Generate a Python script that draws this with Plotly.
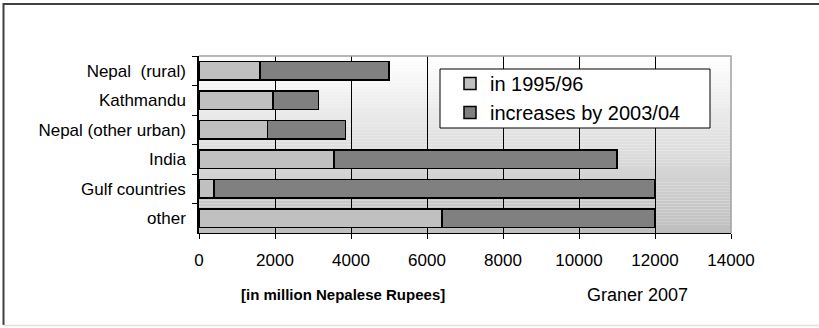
import plotly.graph_objects as go

# Remittance inflows by source, 1995/96 level and increase by 2003/04
categories = ["Nepal  (rural)", "Kathmandu", "Nepal (other urban)", "India",
              "Gulf countries", "other"]
base_1995 = [1600, 1950, 1800, 3550, 400, 6400]
increase_2003 = [3400, 1200, 2050, 7450, 11600, 5600]
x_ticks = [0, 2000, 4000, 6000, 8000, 10000, 12000, 14000]

FONT = "Arial, Liberation Sans, sans-serif"
W, H = 819, 328
L, R, T, B = 199, 88, 56, 95
PW, PH = W - L - R, H - T - B


def px_x(p):
    return (p - L) / PW


def px_y(p):
    return (H - B - p) / PH


fig = go.Figure()
fig.add_trace(go.Bar(
    y=categories, x=base_1995, orientation="h", name="in 1995/96",
    marker=dict(color="#c0c0c0", line=dict(color="#000000", width=1.5)),
))
fig.add_trace(go.Bar(
    y=categories, x=increase_2003, orientation="h", name="increases by 2003/04",
    marker=dict(color="#808080", line=dict(color="#000000", width=1.5)),
))

shapes = []
# vertical white-to-grey gradient behind the plot area
n_bands = 60
for i in range(n_bands):
    t = (i + 0.5) / n_bands
    g = round(255 - t * 65)
    shapes.append(dict(
        type="rect", xref="x domain", yref="y domain",
        x0=0, x1=1, y0=1 - (i + 1) / n_bands, y1=1 - i / n_bands,
        fillcolor=f"rgb({g},{g},{g})", line=dict(width=0), layer="below",
    ))
# grey top/right border of the plot area
shapes.append(dict(
    type="path", xref="x domain", yref="y domain",
    path="M 0 1 L 1 1 L 1 0", line=dict(color="#a0a0a0", width=1.5),
    layer="above",
))
# legend box
shapes.append(dict(
    type="rect", xref="paper", yref="paper",
    x0=px_x(440), x1=px_x(710), y0=px_y(128), y1=px_y(69),
    fillcolor="#ffffff", line=dict(color="#000000", width=1), layer="above",
))
# outer frame
shapes.append(dict(
    type="path", xref="paper", yref="paper",
    path=f"M {px_x(822)} {px_y(4)} L {px_x(3.5)} {px_y(4)} L {px_x(3.5)} {px_y(325)}",
    line=dict(color="#404040", width=2), layer="above",
))
shapes.append(dict(
    type="line", xref="paper", yref="paper",
    x0=px_x(3.5), x1=px_x(822), y0=px_y(325.5), y1=px_y(325.5),
    line=dict(color="#e0e0e0", width=1.5), layer="above",
))

fig.update_layout(
    width=W, height=H,
    margin=dict(l=L, r=R, t=T, b=B, pad=0),
    paper_bgcolor="#ffffff", plot_bgcolor="rgba(0,0,0,0)",
    barmode="stack", bargap=0.36,
    font=dict(family=FONT, color="#000000"),
    shapes=shapes,
    showlegend=True,
    legend=dict(
        x=px_x(450), y=px_y(64), xanchor="left", yanchor="top",
        xref="paper", yref="paper",
        bgcolor="rgba(0,0,0,0)", borderwidth=0, traceorder="normal",
        font=dict(family=FONT, size=20, color="#000000"),
    ),
    annotations=[
        dict(text="<b>[in million Nepalese Rupees]</b>", xref="paper", yref="paper",
             x=px_x(343), y=px_y(294), xanchor="center", yanchor="middle",
             showarrow=False,
             font=dict(family=FONT, size=15, color="#000000")),
        dict(text="Graner 2007", xref="paper", yref="paper",
             x=px_x(637), y=px_y(295), xanchor="center", yanchor="middle",
             showarrow=False,
             font=dict(family=FONT, size=18, color="#000000")),
    ],
)
fig.update_xaxes(
    range=[0, 14000], tickvals=x_ticks, ticktext=[str(v) for v in x_ticks],
    showgrid=True, gridcolor="#000000", gridwidth=1,
    showline=True, linecolor="#000000", linewidth=1,
    ticks="outside", ticklen=5, tickcolor="#000000", tickwidth=1,
    ticklabelstandoff=7,
    tickfont=dict(family=FONT, size=17, color="#000000"),
    zeroline=False, fixedrange=True,
)
fig.update_yaxes(
    categoryorder="array", categoryarray=categories, autorange="reversed",
    showgrid=False, showline=True, linecolor="#000000", linewidth=1.5,
    ticks="outside", ticklen=5, tickcolor="#000000", tickwidth=1,
    tickson="boundaries", ticklabelstandoff=8,
    tickfont=dict(family=FONT, size=17, color="#000000"),
    fixedrange=True,
)

fig.write_html("out.html")
